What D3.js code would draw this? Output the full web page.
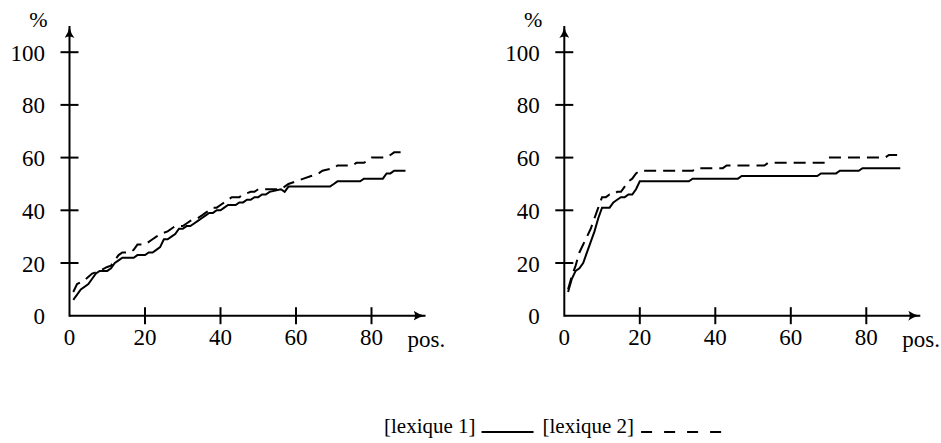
<!DOCTYPE html>
<html>
<head>
<meta charset="utf-8">
<script src="https://cdn.jsdelivr.net/npm/d3@7"></script>
<style>
  body { margin: 0; background: #fff; }
  text { font-family: "Liberation Serif", "DejaVu Serif", serif; fill: #000; }
</style>
</head>
<body>
<script>
  //DATA (position in list, % found)
  var xTicks = [0, 20, 40, 60, 80];
  var yTicks = [0, 20, 40, 60, 80, 100];

  //left panel, lexique 1 (solid)
  var leftLex1Pos = [1, 3, 5, 7, 8, 10, 11, 12, 13, 14, 17, 18, 20, 21, 22, 23, 24, 25, 26, 27, 28, 29, 30, 31, 32, 33, 34, 35, 36, 37, 38, 39, 40, 41, 42, 44, 45, 46, 47, 48, 49, 50, 51, 52, 53, 56, 57, 58, 69, 70, 71, 77, 78, 83, 84, 85, 86, 89];
  var leftLex1Val = [6, 10, 12, 16, 17, 17, 18, 20, 21, 22, 22, 23, 23, 24, 24, 25, 26, 29, 29, 30, 31, 33, 33, 34, 34, 35, 36, 37, 38, 39, 39, 40, 40, 41, 42, 42, 43, 43, 44, 44, 45, 45, 46, 46, 47, 48, 47, 49, 49, 50, 51, 51, 52, 52, 54, 54, 55, 55];
  //left panel, lexique 2 (dashed)
  var leftLex2Pos = [1, 2, 4, 6, 8, 10, 11, 12, 13, 14, 16, 17, 18, 20, 21, 22, 23, 24, 26, 27, 28, 30, 31, 32, 34, 35, 36, 37, 38, 39, 40, 41, 42, 43, 45, 46, 48, 49, 50, 56, 57, 58, 60, 62, 64, 66, 67, 70, 71, 75, 76, 78, 79, 80, 84, 85, 86, 89];
  var leftLex2Val = [9, 12, 13.5, 16, 17, 18.5, 19, 21, 23, 24, 24, 25, 27, 27, 28, 29, 30, 31, 32, 33, 34, 34, 35, 36, 37, 38, 39, 40, 41, 41, 42, 43, 44, 45, 45, 46, 47, 47, 48, 48, 49, 50, 51, 52, 53, 54, 55, 56, 57, 57, 58, 58, 59, 60, 60, 61, 62, 62];

  //right panel, lexique 1 (solid)
  var rightLex1Pos = [1, 2, 3, 4, 5, 6, 7, 8, 9, 10, 12, 13, 14, 15, 16, 17, 18, 19, 20, 33, 34, 46, 47, 67, 68, 72, 73, 78, 79, 89];
  var rightLex1Val = [9, 14, 17, 18, 20, 24, 28, 32, 37, 41, 41, 43, 44, 45, 45, 46, 46, 48, 51, 51, 52, 52, 53, 53, 54, 54, 55, 55, 56, 56];
  //right panel, lexique 2 (dashed)
  var rightLex2Pos = [1, 2, 3, 4, 5, 6, 7, 8, 9, 10, 11, 12, 13, 14, 15, 16, 17, 18, 19, 20, 34, 35, 42, 43, 53, 54, 69, 70, 85, 86, 89];
  var rightLex2Val = [10, 15, 19, 24, 27, 30, 33, 37, 41, 45, 45, 46, 46, 47, 47, 49, 51, 52, 54, 55, 55, 56, 56, 57, 57, 58, 58, 60, 60, 61, 61];

  var legendLabels = ["[lexique 1]", "[lexique 2]"];

  //SIZES
  var w = 941;
  var h = 443;
  var originY = 315.7; //y of the x axis
  var panelX = [69.5, 564.3]; //x of the y axis, each panel
  var fontSize = 23;

  //SCALES
  var x = d3.scaleLinear()
      .domain([0, 20])
      .range([0, 75.5]);

  var y = d3.scaleLinear()
      .domain([0, 100])
      .range([originY, 52.2]);

  var svg = d3.select("body")
      .append("svg")
      .attr("width", w)
      .attr("height", h);

  svg.append("defs")
      .append("marker")
      .attr("id", "arrow")
      .attr("viewBox", "0 0 12 10")
      .attr("refX", 12)
      .attr("refY", 5)
      .attr("markerUnits", "userSpaceOnUse")
      .attr("markerWidth", 12)
      .attr("markerHeight", 10)
      .attr("orient", "auto")
      .append("path")
      .attr("d", "M0,0 Q5,4 12,5 Q5,6 0,10 Q3,5 0,0 Z")
      .attr("fill", "#000");

  var line = d3.line()
      .x(function(d) { return x(d[0]); })
      .y(function(d) { return y(d[1]); });

  function zip(a, b) {
      return a.map(function(v, i) { return [v, b[i]]; });
  }

  function drawPanel(ox, lex1Pos, lex1Val, lex2Pos, lex2Val) {
      var g = svg.append("g")
          .attr("transform", "translate(" + ox + ",0)");

      //AXES
      g.append("line")
          .attr("x1", 0).attr("y1", originY)
          .attr("x2", 356).attr("y2", originY)
          .attr("stroke", "#000")
          .attr("stroke-width", 2)
          .attr("marker-end", "url(#arrow)");

      g.append("line")
          .attr("x1", 0).attr("y1", originY + 1)
          .attr("x2", 0).attr("y2", 26)
          .attr("stroke", "#000")
          .attr("stroke-width", 2)
          .attr("marker-end", "url(#arrow)");

      //x ticks (no tick at 0)
      g.selectAll(".xtick")
          .data(xTicks.filter(function(d) { return d > 0; }))
          .enter()
          .append("line")
          .attr("x1", function(d) { return x(d); })
          .attr("x2", function(d) { return x(d); })
          .attr("y1", originY - 8.5)
          .attr("y2", originY + 8.5)
          .attr("stroke", "#000")
          .attr("stroke-width", 2);

      g.selectAll(".xlab")
          .data(xTicks)
          .enter()
          .append("text")
          .attr("x", function(d) { return x(d); })
          .attr("y", 345)
          .attr("text-anchor", "middle")
          .attr("font-size", fontSize)
          .text(function(d) { return d; });

      //y ticks (no tick at 0)
      g.selectAll(".ytick")
          .data(yTicks.filter(function(d) { return d > 0; }))
          .enter()
          .append("line")
          .attr("x1", -9)
          .attr("x2", 9)
          .attr("y1", function(d) { return y(d); })
          .attr("y2", function(d) { return y(d); })
          .attr("stroke", "#000")
          .attr("stroke-width", 2);

      g.selectAll(".ylab")
          .data(yTicks)
          .enter()
          .append("text")
          .attr("x", -24.5)
          .attr("y", function(d) { return y(d) + 8.5; })
          .attr("text-anchor", "end")
          .attr("font-size", fontSize)
          .text(function(d) { return d; });

      g.append("text")
          .attr("x", -22)
          .attr("y", 27)
          .attr("text-anchor", "end")
          .attr("font-size", 22)
          .text("%");

      g.append("text")
          .attr("x", 338)
          .attr("y", 347)
          .attr("font-size", fontSize)
          .text("pos.");

      //LINES
      g.append("path")
          .datum(zip(lex1Pos, lex1Val))
          .attr("d", line)
          .attr("fill", "none")
          .attr("stroke", "#000")
          .attr("stroke-width", 2);

      g.append("path")
          .datum(zip(lex2Pos, lex2Val))
          .attr("d", line)
          .attr("fill", "none")
          .attr("stroke", "#000")
          .attr("stroke-width", 2)
          .attr("stroke-dasharray", "12,7");
  }

  drawPanel(panelX[0], leftLex1Pos, leftLex1Val, leftLex2Pos, leftLex2Val);
  drawPanel(panelX[1], rightLex1Pos, rightLex1Val, rightLex2Pos, rightLex2Val);

  //LEGEND
  var legend = svg.append("g");
  var lx = 384;
  var ly = 433;

  var t1 = legend.append("text")
      .attr("x", lx)
      .attr("y", ly)
      .attr("font-size", 21)
      .text(legendLabels[0]);
  lx += t1.node().getComputedTextLength() + 6;

  legend.append("line")
      .attr("x1", lx).attr("x2", lx + 52)
      .attr("y1", ly - 1).attr("y2", ly - 1)
      .attr("stroke", "#000")
      .attr("stroke-width", 2);
  lx += 52 + 9;

  var t2 = legend.append("text")
      .attr("x", lx)
      .attr("y", ly)
      .attr("font-size", 21)
      .text(legendLabels[1]);
  lx += t2.node().getComputedTextLength() + 7;

  legend.append("line")
      .attr("x1", lx).attr("x2", lx + 80)
      .attr("y1", ly - 1).attr("y2", ly - 1)
      .attr("stroke", "#000")
      .attr("stroke-width", 2)
      .attr("stroke-dasharray", "11,12");
</script>
</body>
</html>
